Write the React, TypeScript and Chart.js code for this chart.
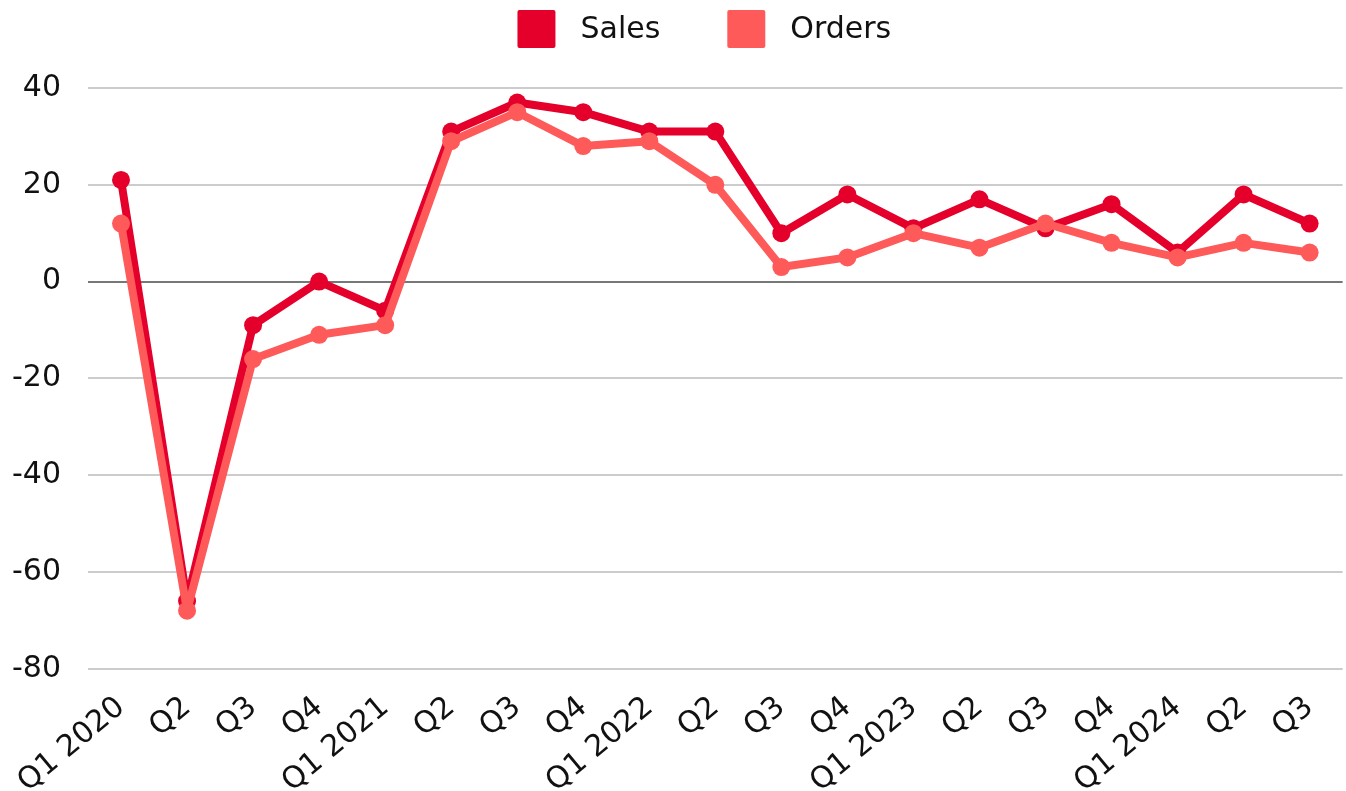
import React, { useEffect, useRef } from "react";
import { Chart, registerables } from "chart.js";

Chart.register(...registerables);

const categories = [
  "Q1 2020", "Q2", "Q3", "Q4",
  "Q1 2021", "Q2", "Q3", "Q4",
  "Q1 2022", "Q2", "Q3", "Q4",
  "Q1 2023", "Q2", "Q3", "Q4",
  "Q1 2024", "Q2", "Q3",
];
const sales = [21, -66, -9, 0, -6, 31, 37, 35, 31, 31, 10, 18, 11, 17, 11, 16, 6, 18, 12];
const orders = [12, -68, -16, -11, -9, 29, 35, 28, 29, 20, 3, 5, 10, 7, 12, 8, 5, 8, 6];

const SALES_COLOR = "#e4002b";
const ORDERS_COLOR = "#ff5a5a";
const FONT = "'DejaVu Sans', sans-serif";
const FONT_SIZE = 30;

const legendPlugin = {
  id: "customLegend",
  afterDraw(chart: any) {
    const ctx = chart.ctx;
    const box = 38;
    const gapText = 25;
    const gapItem = 67;
    ctx.save();
    ctx.font = `${FONT_SIZE}px ${FONT}`;
    const items = chart.data.datasets.map((d: any) => ({
      label: d.label as string,
      color: d.borderColor as string,
      w: ctx.measureText(d.label).width,
    }));
    let total = 0;
    items.forEach((it: any, i: number) => {
      total += box + gapText + it.w + (i > 0 ? gapItem : 0);
    });
    const center = (chart.chartArea.left + chart.chartArea.right) / 2 - 11;
    let x = center - total / 2;
    const top = 10;
    items.forEach((it: any) => {
      ctx.fillStyle = it.color;
      ctx.beginPath();
      if ((ctx as any).roundRect) (ctx as any).roundRect(x, top, box, box, 2);
      else ctx.rect(x, top, box, box);
      ctx.fill();
      ctx.fillStyle = "#111";
      ctx.textBaseline = "middle";
      ctx.textAlign = "left";
      ctx.fillText(it.label, x + box + gapText, top + box / 2 + 1);
      x += box + gapText + it.w + gapItem;
    });
    ctx.restore();
  },
};

export default function App() {
  const ref = useRef<HTMLCanvasElement>(null);
  useEffect(() => {
    if (!ref.current) return;
    const chart = new Chart(ref.current, {
      type: "line",
      data: {
        labels: categories,
        datasets: [
          {
            label: "Sales",
            data: sales,
            borderColor: SALES_COLOR,
            backgroundColor: SALES_COLOR,
            borderWidth: 8,
            borderJoinStyle: "round",
            pointRadius: 9,
            pointBorderWidth: 0,
            pointBackgroundColor: SALES_COLOR,
            tension: 0,
            order: 1,
          },
          {
            label: "Orders",
            data: orders,
            borderColor: ORDERS_COLOR,
            backgroundColor: ORDERS_COLOR,
            borderWidth: 8,
            borderJoinStyle: "round",
            pointRadius: 9,
            pointBorderWidth: 0,
            pointBackgroundColor: ORDERS_COLOR,
            tension: 0,
            order: 0,
          },
        ],
      },
      plugins: [legendPlugin],
      options: {
        animation: false,
        responsive: true,
        maintainAspectRatio: false,
        layout: { padding: { left: 12, right: 0, top: 88, bottom: 0 } },
        plugins: {
          tooltip: { enabled: false },
          legend: { display: false },
        },
        scales: {
          x: {
            offset: true,
            grid: { display: false, drawTicks: false },
            border: { display: false },
            ticks: {
              autoSkip: false,
              minRotation: 40,
              maxRotation: 40,
              padding: 21,
              color: "#111",
              font: { family: FONT, size: FONT_SIZE },
            },
          },
          y: {
            min: -80,
            max: 40,
            border: { display: false },
            grid: {
              drawTicks: false,
              lineWidth: 2,
              color: (ctx: any) => (ctx.tick && ctx.tick.value === 0 ? "#777777" : "#cccccc"),
            },
            ticks: {
              stepSize: 20,
              padding: 27,
              color: "#111",
              font: { family: FONT, size: FONT_SIZE },
            },
          },
        },
      },
    });
    return () => chart.destroy();
  }, []);
  return (
    <div style={{ position: "absolute", left: 0, top: 0, width: 1346, height: 791, overflow: "hidden" }}>
      <div style={{ position: "absolute", left: -27, top: 0, width: 1381, height: 821 }}>
        <canvas ref={ref} />
      </div>
    </div>
  );
}
